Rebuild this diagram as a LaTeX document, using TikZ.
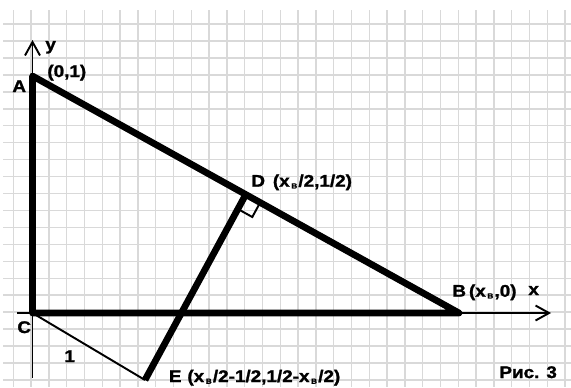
\documentclass[tikz,border=0pt]{standalone}
\usepackage{fontspec}
\setmainfont{Liberation Sans}[BoldFeatures={FakeBold=1.3}]
\usetikzlibrary{arrows.meta,calc}

\tikzset{
  gridline/.style={black!15, line width=0.85pt},
  thickline/.style={line width=3.8pt, line join=round},
  thinline/.style={line width=1.1pt},
  axisline/.style={line width=1.1pt, -{Straight Barb[length=0.27cm,width=0.3cm]}},
  lbl/.style={anchor=base west, inner sep=0pt, font=\fontsize{9.6}{11}\selectfont\bfseries, xscale=1.12, transform shape}
}
\newcommand{\subB}{\kern0.8pt\raisebox{-1pt}{\fontsize{4.2}{4.2}\selectfont B}\kern0.6pt}

\begin{document}
\begin{tikzpicture}[x=0.02cm, y=-0.02cm]
\useasboundingbox (0,0) rectangle (571,387);
\fill[white] (0,0) rectangle (571,387);

    % Grid
    \foreach \i in {0,...,31}
      \draw[gridline] (13.3+17.8*\i,10) -- (13.3+17.8*\i,387);
    \foreach \j in {0,...,21}
      \draw[gridline] (3,24+16.95*\j) -- (571,24+16.95*\j);

    % Points
    \coordinate (C) at (32.5,313);
    \coordinate (A) at (32.5,76);
    \coordinate (B) at (459,313);
    \coordinate (D) at ($(A)!0.5!(B)$);
    \coordinate (E) at (145,380);
    \coordinate (xstart) at (17,313);
    \coordinate (xend) at (551,313);
    \coordinate (ystart) at (32.5,378);
    \coordinate (yend) at (32.5,40);

    % Axes
    \draw[axisline] (xstart) -- (xend);
    \draw[axisline] (ystart) -- (yend);

    % Triangle ABC and segment DE
    \draw[thickline] (A) -- (C) -- (B) -- cycle;
    \draw[thickline] (D) -- (E);
    \draw[thinline] (C) -- (E);

    % Right angle at D
    \coordinate (r1) at ($(D)!0.33cm!(E)$);
    \coordinate (r3) at ($(D)!0.33cm!(B)$);
    \draw[thinline] (r1) -- ($(r1)+(r3)-(D)$) -- (r3);

    % Labels
    \node[lbl] (labA) at (12,92) {A};
    \node[lbl] (laby) at (45,50) {y};
    \node[lbl] (labA2) at (47,77) {(0,1)};
    \node[lbl] (labD) at (251,186.7) {D\kern4pt(x\subB/2,1/2)};
    \node[lbl] (labB) at (452,296.7) {B\kern1.5pt(x\subB,0)};
    \node[lbl] (labx) at (528,295) {x};
    \node[lbl] (labC) at (17,333) {C};
    \node[lbl] (lab1) at (64,362) {1};
    \node[lbl] (labE) at (168.5,382) {E\kern3pt(x\subB/2-1/2,1/2-x\subB/2)};
    \node[lbl] (fig) at (499,378) {Рис. 3};

\end{tikzpicture}
\end{document}
